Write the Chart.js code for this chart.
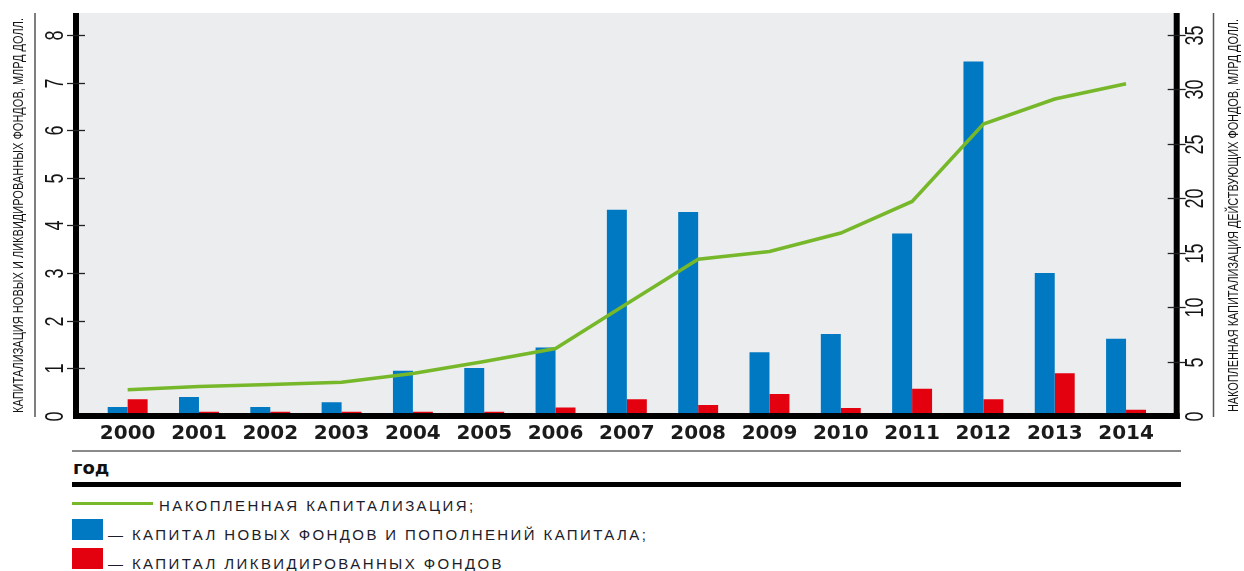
<!DOCTYPE html>
<html lang="ru">
<head>
<meta charset="utf-8">
<title>Капитализация фондов</title>
<script src="https://cdn.jsdelivr.net/npm/chart.js@4.4.1/dist/chart.umd.min.js"></script>
<style>
  body { margin: 0; background: #fff; width: 1244px; height: 571px; position: relative; overflow: hidden; }
  #chartBox { position: absolute; left: 0; top: 0; width: 1244px; height: 450px; }
  .rule { position: absolute; left: 72px; width: 1109px; }
  .lg { position: absolute; font-family: "Liberation Sans", Arial, sans-serif; font-size: 15px; letter-spacing: 2.4px; color: #1c1c2a; white-space: nowrap; line-height: 18px; }
  .sw { position: absolute; left: 72px; width: 31px; height: 21px; }
</style>
</head>
<body>
<div id="chartBox"><canvas id="capChart" width="1244" height="450"></canvas></div>

<div class="rule" style="top:450px;height:2px;background:#8a8a8a;"></div>
<div class="lg" style="left:73px;top:458px;font-family:'DejaVu Sans',sans-serif;font-weight:bold;font-size:18px;letter-spacing:0;line-height:20px;color:#111;">год</div>
<div class="rule" style="top:482px;height:5px;background:#000;"></div>

<div style="position:absolute;left:72px;top:502px;width:81px;height:3px;background:#76b82a;"></div>
<div class="lg" style="left:159px;top:497px;">НАКОПЛЕННАЯ КАПИТАЛИЗАЦИЯ;</div>
<div class="sw" style="top:519px;background:#0079c2;"></div>
<div class="lg" style="left:108px;top:526px;">— КАПИТАЛ НОВЫХ ФОНДОВ И ПОПОЛНЕНИЙ КАПИТАЛА;</div>
<div class="sw" style="top:548px;background:#e3000f;"></div>
<div class="lg" style="left:108px;top:555px;">— КАПИТАЛ ЛИКВИДИРОВАННЫХ ФОНДОВ</div>

<script>
// данные, млрд долл.
const years = ['2000', '2001', '2002', '2003', '2004', '2005', '2006', '2007',
               '2008', '2009', '2010', '2011', '2012', '2013', '2014'];
const newCapital = [0.19, 0.40, 0.19, 0.29, 0.95, 1.01, 1.44, 4.33, 4.28, 1.34, 1.72, 3.83, 7.44, 3.00, 1.62];
const liquidated = [0.35, 0.09, 0.09, 0.09, 0.09, 0.09, 0.18, 0.35, 0.23, 0.46, 0.17, 0.57, 0.35, 0.90, 0.13];
const cumulative = [2.4, 2.7, 2.9, 3.1, 3.9, 5.0, 6.2, 10.3, 14.4, 15.1, 16.8, 19.7, 26.8, 29.1, 30.5];

const leftTicks = [0, 1, 2, 3, 4, 5, 6, 7, 8];
const rightTicks = [0, 5, 10, 15, 20, 25, 30, 35];

const leftTitle = 'КАПИТАЛИЗАЦИЯ НОВЫХ И ЛИКВИДИРОВАННЫХ ФОНДОВ, МЛРД ДОЛЛ.';
const rightTitle = 'НАКОПЛЕННАЯ КАПИТАЛИЗАЦИЯ ДЕЙСТВУЮЩИХ ФОНДОВ, МЛРД ДОЛЛ.';

const SANS = '"Liberation Sans", Arial, sans-serif';

// текст снизу вверх, сжатый по длине (узкий шрифт в оригинале)
function upText(ctx, text, x, y, font, squeeze, maxW) {
    ctx.save();
    ctx.translate(x, y);
    ctx.rotate(-Math.PI / 2);
    ctx.scale(squeeze, 1);
    ctx.font = font;
    ctx.fillStyle = '#151515';
    ctx.textAlign = 'center';
    ctx.textBaseline = 'middle';
    if (maxW) ctx.fillText(text, 0, 0, maxW / squeeze);
    else ctx.fillText(text, 0, 0);
    ctx.restore();
}

// рамка, фон, засечки, подписи шкал
const framePlugin = {
    id: 'frame',
    beforeDatasetsDraw(chart) {
        const { ctx, chartArea: a } = chart;
        ctx.save();
        ctx.fillStyle = '#ecedef';
        ctx.fillRect(a.left - 14, a.top, a.right - a.left + 26, a.bottom - a.top);
        ctx.restore();
    },
    afterDatasetsDraw(chart) {
        const { ctx, chartArea: a } = chart;
        const xl = a.left - 19, xr = a.right + 12;
        ctx.save();
        ctx.fillStyle = '#000';
        ctx.fillRect(xl, a.top, 6, a.bottom - a.top + 3);
        ctx.fillRect(xr, a.top, 6, a.bottom - a.top + 3);
        ctx.fillRect(xl, a.bottom - 3, xr - xl + 6, 6);

        const yl = chart.scales.y, yr = chart.scales.y1;
        ctx.strokeStyle = '#222';
        ctx.lineWidth = 1.3;
        yl.ticks.forEach(t => {
            const p = Math.round(yl.getPixelForValue(t.value)) + 0.5;
            if (t.value !== 0) { ctx.beginPath(); ctx.moveTo(xl - 6, p); ctx.lineTo(xl + 12, p); ctx.stroke(); }
            upText(ctx, String(t.value), 56, p, '25px ' + SANS, 0.72);
        });
        yr.ticks.forEach(t => {
            const p = Math.round(yr.getPixelForValue(t.value)) + 0.5;
            if (t.value !== 0) { ctx.beginPath(); ctx.moveTo(xr - 6, p); ctx.lineTo(xr + 12, p); ctx.stroke(); }
            upText(ctx, String(t.value), 1196, p, '25px ' + SANS, 0.72);
        });

        // тонкие разделители у подписей осей
        ctx.strokeStyle = '#555';
        ctx.lineWidth = 1.5;
        ctx.beginPath(); ctx.moveTo(35, a.top); ctx.lineTo(35, a.bottom + 1); ctx.stroke();
        ctx.beginPath(); ctx.moveTo(1213.5, a.top); ctx.lineTo(1213.5, a.bottom + 1); ctx.stroke();

        const mid = (a.top + a.bottom) / 2 + 1;
        upText(ctx, leftTitle, 19, mid, '15px ' + SANS, 1, 395);
        upText(ctx, rightTitle, 1234, mid, '15px ' + SANS, 1, 393);
        ctx.restore();
    }
};

new Chart(document.getElementById('capChart'), {
    type: 'bar',
    data: {
        labels: years,
        datasets: [
            {
                type: 'line', label: 'Накопленная капитализация', data: cumulative, yAxisID: 'y1',
                borderColor: '#76b82a', borderWidth: 3.5, pointRadius: 0, tension: 0, order: 0
            },
            {
                label: 'Капитал новых фондов', data: newCapital, yAxisID: 'y',
                backgroundColor: '#0079c2', order: 1, categoryPercentage: 0.56, barPercentage: 1
            },
            {
                label: 'Капитал ликвидированных фондов', data: liquidated, yAxisID: 'y',
                backgroundColor: '#e3000f', order: 1, categoryPercentage: 0.56, barPercentage: 1
            }
        ]
    },
    options: {
        responsive: false,
        animation: false,
        layout: { padding: { top: 13, left: 0, right: 0, bottom: 0 } },
        plugins: { legend: { display: false }, tooltip: { enabled: false } },
        scales: {
            x: {
                offset: true,
                grid: { display: false, drawTicks: false },
                border: { display: false },
                ticks: { color: '#1b1b1b', padding: 6, font: { family: '"DejaVu Sans", sans-serif', size: 20, weight: 'bold' } },
                afterFit(s) { s.height = 34; }
            },
            y: {
                position: 'left',
                min: 0, max: 8.46,
                afterBuildTicks(s) { s.ticks = leftTicks.map(v => ({ value: v })); },
                grid: { display: false, drawTicks: false },
                border: { display: false },
                ticks: { display: false },
                afterFit(s) { s.width = 92; }
            },
            y1: {
                position: 'right',
                min: 0, max: 37.0,
                afterBuildTicks(s) { s.ticks = rightTicks.map(v => ({ value: v })); },
                grid: { display: false, drawTicks: false },
                border: { display: false },
                ticks: { display: false },
                afterFit(s) { s.width = 82.3; }
            }
        }
    },
    plugins: [framePlugin]
});
</script>
</body>
</html>
